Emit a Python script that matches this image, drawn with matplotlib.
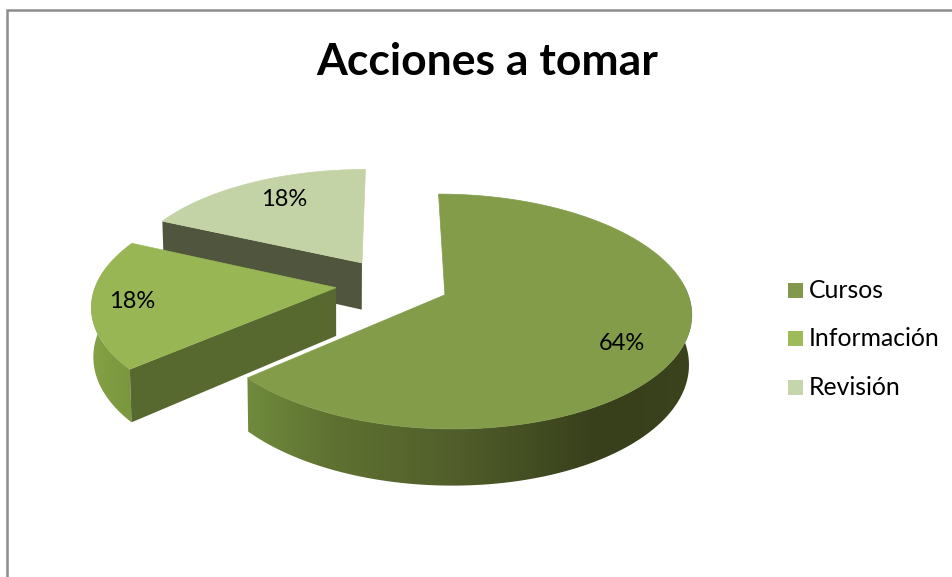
import numpy as np
import matplotlib
matplotlib.use('Agg')
import matplotlib.pyplot as plt
from matplotlib.patches import Polygon, Rectangle
from matplotlib.colors import to_rgb

# chart data, 7/2/2 gives the 64%, 18%, 18% printed on the chart
labels = ['Cursos', 'Información', 'Revisión']
values = [7, 2, 2]
top_colors = ['#829c4a', '#99b655', '#c3d3a6']
legend_colors = ['#82994b', '#9dbb59', '#c5d6aa']

# look of the fake 3d pie, everything in pixels of the picture
WIDTH, HEIGHT = 952, 577
CX, CY = 395, 284
RX, RY = 240, 112
PERSP = 0.14
EXPLODE = 0.23
DEPTH = 48
VANISH_X = 340
SHRINK = 0.008

plt.rcParams['font.family'] = ['Lato', 'DejaVu Sans']


def project(u, v):
    # plane of the pie to picture pixels, with a bit of perspective
    d = 1 + PERSP * v
    return CX + RX * u / d, CY - RY * v / d, DEPTH / d


def lower(x, y, depth):
    # same point on the underside of the pie
    return x + (VANISH_X - x) * SHRINK, y + depth


def gradient_wall(ax, pts, stops):
    # polygon filled with a left to right colour ramp
    pts = np.array(pts)
    x0, x1 = pts[:, 0].min(), pts[:, 0].max()
    y0, y1 = pts[:, 1].min(), pts[:, 1].max()
    xx = np.linspace(x0, x1, 400)
    stop_x = [s[0] for s in stops]
    stop_rgb = np.array([to_rgb(s[1]) for s in stops])
    img = np.stack([np.interp(xx, stop_x, stop_rgb[:, c]) for c in range(3)], axis=-1)[None, :, :]
    im = ax.imshow(img, extent=[x0, x1, y1, y0], aspect='auto', interpolation='bilinear')
    patch = Polygon(pts, closed=True, facecolor='none', edgecolor='none')
    ax.add_patch(patch)
    im.set_clip_path(patch)


fig = plt.figure(figsize=(WIDTH / 100, HEIGHT / 100), dpi=100)
ax = fig.add_axes([0, 0, 1, 1])
ax.axis('off')

# frame only shows on top and left
ax.plot([7, 7, WIDTH], [HEIGHT, 9.5, 9.5], color='#8c8c8c', lw=1.8, solid_joinstyle='miter')

ax.text(487, 62, 'Acciones a tomar', ha='center', va='center', fontsize=32,
        fontweight='bold', color='black')

# angles from the values, clockwise from 12 o'clock
shares = np.array(values) / sum(values)
edges = np.concatenate([[0], np.cumsum(shares)]) * 2 * np.pi

arc_colors = [
    [(250, '#6f8a3c'), (330, '#5f7231'), (450, '#525f2b'), (600, '#373f1b'), (690, '#3b431d')],
    [(85, '#86a345'), (130, '#7a973f')],
    None,
]
radial_colors = [None, '#58692f', '#50563d']
# small sideways nudge per slice, picture is not a perfect projection
nudge = [-1, -4, -4]
front_limit = [0.12, 0.2, None]

# back to front, so the big slice goes on last
for i in [2, 1, 0]:
    a0, a1 = edges[i], edges[i + 1]
    mid = (a0 + a1) / 2
    ou, ov = EXPLODE * np.sin(mid), EXPLODE * np.cos(mid)
    t = np.linspace(a0, a1, 240)
    xs, ys, ds = project(ou + np.sin(t), ov + np.cos(t))
    xs = xs + nudge[i]
    apex_x, apex_y, apex_d = project(ou, ov)
    apex_x = apex_x + nudge[i]

    # outer wall, only the part that faces us
    if arc_colors[i] is not None:
        front = np.cos(t) < front_limit[i]
        fx, fy, fd = xs[front], ys[front], ds[front]
        bx, by = lower(fx, fy, fd)
        wall = list(zip(fx, fy)) + list(zip(bx[::-1], by[::-1]))
        gradient_wall(ax, wall, arc_colors[i])

    # cut face at the start angle of the slice
    if radial_colors[i] is not None:
        ax.add_patch(Polygon([(apex_x, apex_y), (xs[0], ys[0]), lower(xs[0], ys[0], ds[0]),
                              lower(apex_x, apex_y, apex_d)],
                             closed=True, facecolor=radial_colors[i], edgecolor='none'))

    ax.add_patch(Polygon(list(zip(np.append(xs, apex_x), np.append(ys, apex_y))), closed=True,
                         facecolor=top_colors[i], edgecolor=top_colors[i], linewidth=0.5))

# percentage labels
label_pos = [(622, 344), (132, 302), (284, 199)]
for share, (lx, ly) in zip(shares, label_pos):
    ax.text(lx, ly, '%d%%' % round(share * 100), ha='center', va='center', fontsize=17, color='black')

# legend
legend_y = [290.5, 338.5, 387.5]
for name, col, ly in zip(labels, legend_colors, legend_y):
    ax.add_patch(Rectangle((788, ly - 7.5), 15, 15, facecolor=col, edgecolor='none'))
    ax.text(809, ly, name, ha='left', va='center', fontsize=17.8, color='black')

ax.set_xlim(0, WIDTH)
ax.set_ylim(HEIGHT, 0)
fig.savefig('out.png', dpi=100)
